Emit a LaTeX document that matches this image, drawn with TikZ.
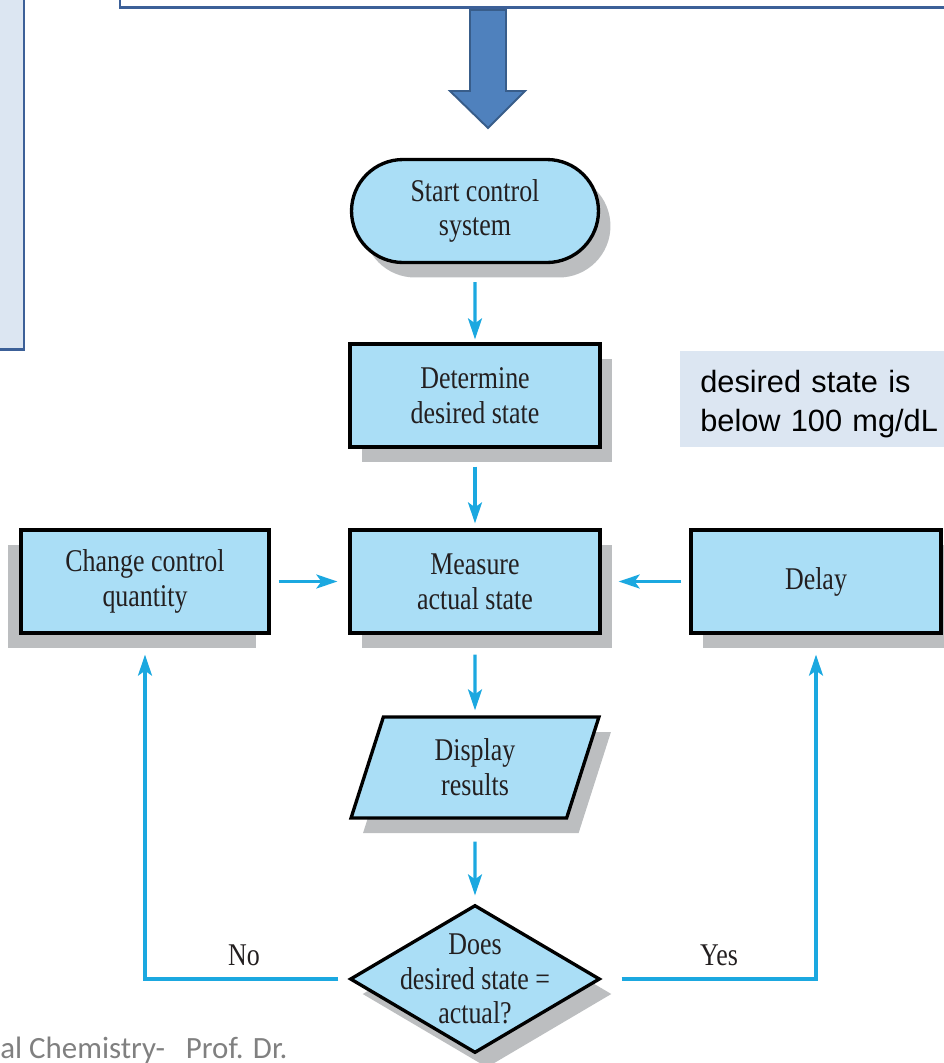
\documentclass[tikz,border=0pt]{standalone}
\usepackage{fontspec}
\usepackage{tikz}
\usetikzlibrary{shapes.geometric,shapes.misc,shadows,arrows.meta}
\setmainfont{Liberation Serif}
\newfontfamily\flowfont[FakeStretch=0.82]{Liberation Serif}
\newfontfamily\notefont{Liberation Sans}
\newfontfamily\footfont{Carlito}
\definecolor{boxfill}{RGB}{170,222,246}
\definecolor{boxshade}{RGB}{188,190,192}
\definecolor{flowline}{RGB}{27,168,224}
\definecolor{panelfill}{RGB}{220,230,242}
\definecolor{panelline}{RGB}{60,96,152}
\definecolor{bigfill}{RGB}{79,129,189}
\definecolor{bigline}{RGB}{56,93,138}
\definecolor{inktext}{RGB}{35,31,32}
\definecolor{footgray}{RGB}{128,128,128}
\tikzset{
  flowtext/.style={text=inktext, align=center, inner sep=0pt,
    font=\flowfont\fontsize{18}{19.8}\selectfont},
  stepbox/.style={flowtext, draw=black, line width=1.9pt, fill=boxfill,
    minimum width=5cm, minimum height=2.06cm},
  rshadow/.style={drop shadow={shadow xshift=0.24cm, shadow yshift=-0.3cm,
    fill=boxshade, opacity=1}},
  lshadow/.style={drop shadow={shadow xshift=-0.26cm, shadow yshift=-0.3cm,
    fill=boxshade, opacity=1}},
  flow/.style={draw=flowline, line width=1.8pt,
    -{Stealth[length=0.42cm, width=0.28cm, inset=0.1cm]}},
  panel/.style={draw=panelline, line width=1.7pt},
  note/.style={fill=panelfill, text=black, align=left, text width=5.2cm,
    text height=0.66cm,
    minimum height=1.92cm, inner xsep=0.4cm, inner ysep=0pt,
    font=\notefont\fontsize{17.5}{22}\selectfont}
}

\begin{document}
\begin{tikzpicture}[x=0.02cm, y=-0.02cm]
    \useasboundingbox (0,0) rectangle (944,1063);
    \clip (0,0) rectangle (944,1063);
    \draw[panel, fill=white] (120,-20) rectangle (970,7);
    \draw[panel, fill=panelfill] (-20,-20) rectangle (24,349);
    \draw[fill=bigfill, draw=bigline, line width=1.1pt, line join=miter]
        (470,10) -- (506,10) -- (506,91) -- (525,91) -- (488,128)
        -- (450,91) -- (470,91) -- cycle;

    \node[stepbox, rounded rectangle, rshadow, minimum width=4.94cm] (start) at (475,211) {Start control\\system};
    \node[stepbox, rshadow] (plan) at (475,395.5) {Determine\\desired state};
    \node[stepbox, rshadow] (measure) at (475,581.5) {Measure\\actual state};
    \node[stepbox, lshadow, minimum width=4.96cm] (change) at (145,581.5) {Change control\\quantity};
    \node[stepbox, rshadow] (delay) at (816,581.5) {Delay};
    \node[stepbox, rshadow, trapezium, trapezium left angle=76, trapezium right angle=104,
        trapezium stretches=true, minimum width=4.96cm, minimum height=2.02cm] (show) at (475,767.5) {Display\\results};
    \node[stepbox, rshadow, diamond, minimum width=5cm, minimum height=2.96cm] (check) at (475,979) {};
    \node[flowtext] (checktext) at (check) {Does\\desired state =\\actual?};

    \node[note, anchor=west] (goal) at (680,399) {desired state is\\below 100 mg/dL};
    \node[flowtext] (no) at (244,955) {No};
    \node[flowtext] (yes) at (719,955) {Yes};
    \node[anchor=base west, inner sep=0pt, text=footgray,
        font=\footfont\fontsize{17.6}{20}\selectfont] (credit) at (0,1058) {al Chemistry-\ \ \ Prof. Dr.};

    \draw[flow, shorten <=0.36cm, shorten >=0.06cm] (start) -- (plan);
    \draw[flow, shorten <=0.36cm, shorten >=0.1cm] (plan) -- (measure);
    \draw[flow, shorten <=0.4cm, shorten >=0.1cm] (measure) -- (show);
    \draw[flow, shorten <=0.44cm, shorten >=0.16cm] (show) -- (check);
    \draw[flow, shorten <=0.16cm, shorten >=0.22cm] (change) -- (measure);
    \draw[flow, shorten <=0.16cm, shorten >=0.34cm] (delay) -- (measure);
    \draw[flow, shorten <=0.2cm, shorten >=0.4cm] (check.west) -| (change.south);
    \draw[flow, shorten <=0.4cm, shorten >=0.4cm] (check.east) -| (delay.south);
\end{tikzpicture}
\end{document}
